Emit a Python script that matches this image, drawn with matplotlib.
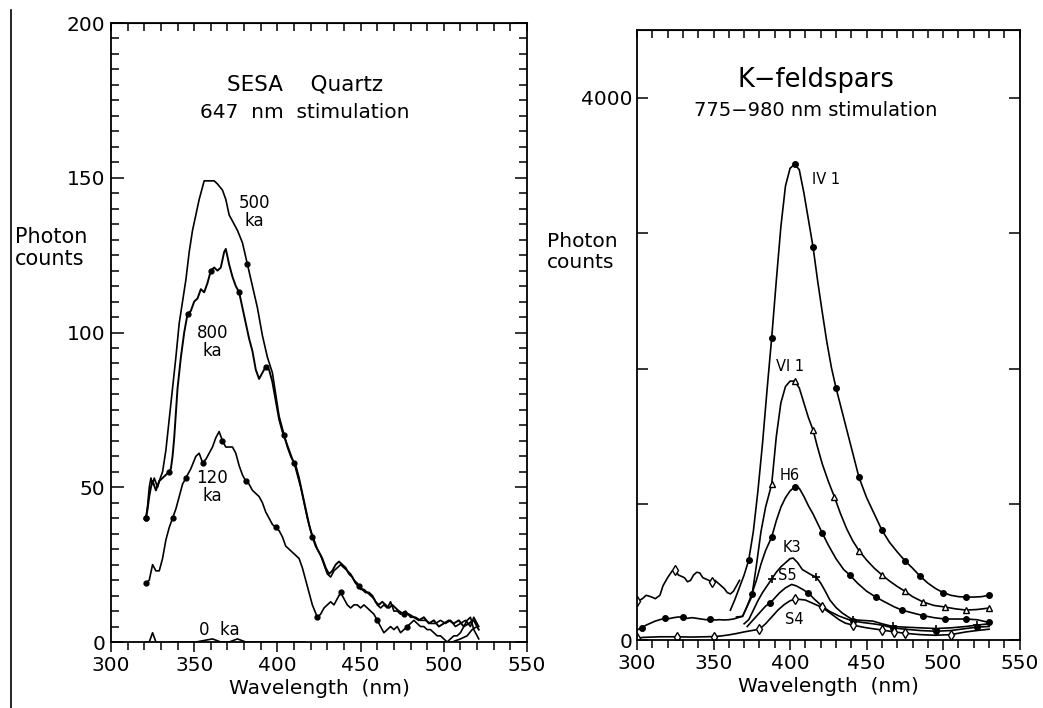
import numpy as np
import matplotlib
matplotlib.use("Agg")
import matplotlib.pyplot as plt
from matplotlib.lines import Line2D
from matplotlib.ticker import MultipleLocator

plt.rcParams['font.family'] = ['DejaVu Sans']

# ---------------- left panel: SESA quartz, 647 nm stimulation ----------------
q500_wl = [321, 322, 323, 324, 325, 326, 328, 329, 331, 333, 335, 337, 339, 341, 343, 345, 347,
           349, 351, 353, 356, 359, 362, 364, 367, 369, 371, 374, 376, 379, 382, 385, 388, 391,
           394, 397, 399, 401, 404, 406, 408, 410, 412, 414, 416, 418, 420, 422, 424, 426, 428,
           430, 432, 434, 436, 438, 440, 442, 444, 446, 448, 450, 452, 454, 456, 458, 460, 462,
           464, 466, 468, 470, 472, 474, 477, 480, 483, 486, 489, 492, 495, 498, 501, 504, 507,
           510, 513, 516, 518, 521]
q500_ct = [40, 44, 50, 53, 51, 53, 50, 52, 55, 62, 72, 82, 92, 103, 110, 117, 126,
           133, 138, 143, 149, 149, 149, 148, 146, 143, 138, 135, 133, 129, 122, 115, 108, 99,
           92, 87, 80, 73, 67, 63, 60, 58, 54, 50, 45, 40, 36, 33, 30, 28, 25,
           22, 21, 23, 24, 25, 24, 23, 22, 20, 19, 17, 17, 16, 15, 14, 12, 11,
           12, 11, 13, 10, 10, 9, 10, 8, 8, 7, 7, 6, 6, 7, 6, 7, 5,
           6, 7, 5, 8, 5]

q800_wl = [321, 322, 323, 324, 325, 327, 329, 331, 333, 335, 336, 337, 338, 339, 340, 342, 344,
           346, 348, 350, 352, 354, 356, 358, 360, 362, 364, 366, 368, 369, 371, 373, 375, 377,
           379, 381, 383, 385, 387, 389, 391, 393, 395, 397, 399, 401, 403, 405, 407, 409, 411,
           413, 415, 417, 419, 421, 423, 425, 427, 429, 431, 433, 435, 437, 439, 441, 443, 445,
           447, 449, 451, 453, 455, 457, 459, 461, 463, 465, 467, 469, 471, 473, 476, 479, 482,
           485, 488, 491, 494, 497, 500, 503, 506, 509, 512, 515, 518, 521]
q800_ct = [40, 43, 47, 50, 52, 49, 52, 53, 54, 55, 56, 60, 66, 74, 82, 92, 100,
           106, 107, 110, 111, 114, 113, 116, 120, 121, 120, 121, 126, 127, 122, 118, 115, 113,
           108, 103, 98, 94, 88, 85, 87, 89, 88, 84, 78, 72, 68, 65, 62, 59, 57,
           53, 48, 43, 38, 34, 31, 29, 27, 24, 22, 23, 25, 26, 25, 24, 22, 21,
           19, 18, 17, 16, 16, 15, 13, 12, 13, 12, 11, 12, 11, 10, 9, 9, 8,
           7, 8, 6, 7, 5, 6, 7, 6, 7, 5, 6, 7, 4]

q120_wl = [321, 323, 325, 327, 329, 331, 333, 335, 337, 339, 341, 343, 345, 348, 351, 353, 355,
           357, 359, 361, 363, 365, 367, 369, 371, 373, 375, 377, 379, 381, 383, 385, 387, 389,
           391, 393, 395, 397, 399, 401, 403, 405, 407, 409, 411, 413, 415, 417, 419, 421, 424,
           426, 428, 430, 432, 434, 436, 438, 440, 442, 444, 446, 448, 450, 452, 454, 456, 458,
           460, 462, 464, 466, 468, 470, 472, 474, 476, 478, 480, 482, 484, 486, 488, 490, 492,
           494, 496, 498, 500, 502, 504, 506, 508, 510, 512, 514, 516, 518, 520, 521]
q120_ct = [19, 20, 25, 23, 23, 27, 33, 37, 40, 43, 47, 51, 53, 56, 60, 61, 58,
           59, 61, 63, 66, 68, 65, 63, 63, 63, 61, 57, 54, 52, 51, 49, 48, 47,
           45, 42, 40, 38, 37, 36, 34, 31, 30, 29, 28, 27, 24, 20, 16, 12, 8,
           9, 11, 12, 13, 12, 14, 16, 14, 12, 11, 12, 12, 11, 12, 11, 10, 9,
           7, 5, 3, 4, 5, 4, 5, 3, 4, 5, 6, 7, 6, 5, 5, 4, 4,
           3, 2, 2, 1, 0, 1, 2, 2, 3, 5, 7, 8, 4, 2, 1]

q0_wl = [321, 323, 325, 327, 329, 331, 333, 336, 341, 351, 361, 366, 371, 376, 381, 391, 401,
         411, 416, 419, 422, 425, 428, 431, 436, 451, 471, 491, 500, 505, 510, 514, 517, 520]
q0_ct = [0, 0, 3, 0, -3, -1, -1, 0, 0, 0, 1, 0, 0, 1, 0, 0, 0,
         0, 0, -1, -2.5, -2, -1, -0.5, 0, 0, 0, 0, 0, 0, 1, 2, 4, 5]

q500_mk = [321, 382, 405, 410]
q800_mk = [321, 335, 346, 360, 377, 393, 421, 449, 476]
q120_mk = [321, 337, 345, 355, 367, 381, 399, 424, 438, 460, 478]

left_labels = ["500\nka", "800\nka", "120\nka", "0  ka"]
left_label_pos = [(386, 139), (361, 97), (361, 50), (365, 4)]

# ---------------- right panel: K-feldspars, 775-980 nm stimulation ----------------
iv1_wl = [361, 364, 367, 370, 373, 376, 379, 382, 385, 388, 391, 394, 397, 400, 403, 406, 409,
          412, 415, 418, 421, 424, 427, 430, 435, 440, 445, 450, 455, 460, 465, 470, 475, 480,
          485, 490, 495, 500, 505, 510, 515, 520, 525, 530]
iv1_ct = [220, 300, 390, 480, 590, 800, 1100, 1450, 1850, 2230, 2650, 3050, 3350, 3480, 3510,
          3470, 3300, 3100, 2900, 2650, 2420, 2200, 2010, 1860, 1640, 1420, 1200, 1050, 930,
          810, 720, 650, 585, 530, 470, 420, 380, 350, 330, 320, 317, 317, 320, 330]
iv1_mk = [373, 388, 403, 415, 430, 445, 460, 475, 485, 500, 515, 530]

# short-wavelength segment measured separately
pre_wl = [300, 303, 306, 309, 312, 315, 317, 320, 323, 325, 327, 329, 331, 333, 335, 337, 339,
          341, 343, 345, 347, 349, 351, 353, 355, 357, 359, 361, 363, 365, 367]
pre_ct = [290, 300, 330, 320, 305, 330, 400, 460, 510, 520, 480, 470, 460, 430, 440, 480, 500,
          495, 460, 450, 440, 430, 440, 420, 400, 380, 350, 340, 360, 400, 440]
pre_mk = [300, 325, 349]

vi1_wl = [365, 369, 372, 375, 378, 381, 384, 388, 391, 394, 397, 400, 403, 406, 409, 412, 415,
          418, 421, 425, 429, 433, 437, 441, 445, 450, 455, 460, 465, 470, 475, 480, 487, 494,
          501, 508, 515, 522, 530]
vi1_ct = [170, 175, 250, 320, 550, 800, 980, 1150, 1500, 1750, 1870, 1910, 1910, 1860, 1750,
          1640, 1550, 1420, 1300, 1170, 1055, 930, 820, 730, 660, 590, 530, 480, 435, 395, 360,
          320, 280, 255, 244, 230, 221, 225, 236]
vi1_mk = [388, 403, 415, 429, 445, 460, 475, 487, 501, 515, 530]

h6_wl = [300, 303, 306, 309, 312, 315, 318, 321, 324, 327, 330, 333, 336, 339, 342, 345, 348,
         351, 354, 357, 360, 363, 366, 369, 372, 375, 378, 381, 384, 388, 391, 394, 397, 400,
         403, 406, 409, 412, 415, 418, 421, 425, 430, 435, 439, 444, 450, 456, 462, 468, 473,
         480, 487, 494, 501, 508, 515, 522, 530]
h6_ct = [74, 90, 110, 125, 140, 150, 160, 158, 165, 170, 168, 160, 165, 160, 155, 150, 152,
         148, 150, 148, 150, 155, 165, 175, 250, 340, 440, 560, 660, 760, 880, 980, 1050, 1100,
         1130, 1120, 1060, 990, 930, 860, 790, 700, 600, 520, 480, 420, 360, 317, 280, 245, 221,
         200, 180, 165, 155, 155, 155, 150, 130]
h6_mk = [303, 318, 330, 348, 375, 388, 403, 421, 439, 456, 473, 487, 501, 515, 530]

k3_wl = [370, 373, 376, 379, 382, 385, 388, 391, 394, 397, 400, 402, 405, 408, 411, 414, 417,
         420, 423, 426, 430, 434, 438, 441, 447, 454, 460, 467, 475, 485, 495, 505, 515, 522, 530]
k3_ct = [120, 150, 220, 290, 350, 400, 450, 500, 540, 570, 600, 605, 570, 520, 500, 480, 465,
         420, 360, 295, 240, 200, 170, 150, 145, 140, 120, 100, 95, 90, 85, 90, 100, 110, 120]
k3_mk = [388, 417, 441, 467, 495, 522]

s5_wl = [372, 376, 380, 384, 387, 390, 393, 397, 401, 404, 408, 412, 416, 421, 426, 432, 436,
         441, 447, 454, 460, 467, 475, 485, 495, 505, 515, 522, 530]
s5_ct = [100, 150, 200, 250, 273, 310, 347, 385, 410, 400, 375, 347, 300, 250, 210, 177, 160,
         140, 130, 120, 110, 90, 80, 70, 65, 70, 85, 95, 100]
s5_mk = [387, 412, 441, 467, 495, 522]

s4_wl = [300, 305, 310, 315, 320, 326, 335, 345, 350, 355, 360, 365, 370, 375, 380, 384, 388,
         392, 396, 400, 403, 406, 410, 415, 421, 426, 432, 436, 441, 450, 460, 468, 475, 485,
         495, 505, 515, 522, 530]
s4_ct = [15, 20, 22, 24, 24, 24, 22, 24, 26, 30, 38, 48, 60, 70, 80, 120, 170,
         220, 260, 290, 300, 300, 295, 270, 240, 200, 150, 125, 110, 90, 74, 60, 50, 40,
         35, 40, 60, 70, 80]
s4_mk = [300, 326, 349, 380, 403, 421, 441, 460, 468, 475, 505]

right_labels = ["IV 1", "VI 1", "H6", "K3", "S5", "S4"]
right_label_pos = [(414, 3400), (400, 2015), (400, 1215), (401, 680), (398, 475), (403, 150)]


def marks(wl, mk):
    wl = np.asarray(wl)
    return [int(np.argmin(np.abs(wl - m))) for m in mk]


def frame(ax):
    for s in ax.spines.values():
        s.set_linewidth(1.3)
    ax.set_xlim(300, 550)
    ax.xaxis.set_major_locator(MultipleLocator(50))
    ax.xaxis.set_minor_locator(MultipleLocator(10))
    ax.tick_params(axis='x', which='both', direction='out', top=False, labelsize=14.5,
                   width=1.1, pad=3)
    ax.tick_params(axis='x', which='major', length=7)
    ax.tick_params(axis='x', which='minor', length=6)
    top = ax.secondary_xaxis('top')
    top.xaxis.set_major_locator(MultipleLocator(10))
    top.tick_params(direction='in', length=6, width=1.1, labeltop=False)
    ax.set_xlabel("Wavelength  (nm)", fontsize=14.5, labelpad=3)


fig = plt.figure(figsize=(10.43, 7.08), dpi=100)

# left panel
ax1 = fig.add_axes([0.1064, 0.0932, 0.3989, 0.8743])
frame(ax1)
ax1.set_ylim(0, 200)
ax1.yaxis.set_major_locator(MultipleLocator(50))
ax1.yaxis.set_minor_locator(MultipleLocator(5))
ax1.tick_params(axis='y', which='both', direction='in', left=True, right=True,
                labelsize=14.5, width=1.1, pad=4)
ax1.tick_params(axis='y', which='major', length=9)
ax1.tick_params(axis='y', which='minor', length=6)

ax1.plot(q500_wl, q500_ct, color='black', lw=1.2, marker='o', ms=3.5,
         markevery=marks(q500_wl, q500_mk))
ax1.plot(q800_wl, q800_ct, color='black', lw=1.4, marker='o', ms=3.5,
         markevery=marks(q800_wl, q800_mk))
ax1.plot(q120_wl, q120_ct, color='black', lw=1.2, marker='o', ms=3.5,
         markevery=marks(q120_wl, q120_mk))
ax1.plot(q0_wl, q0_ct, color='black', lw=1.2)

for txt, (x, y) in zip(left_labels, left_label_pos):
    ax1.text(x, y, txt, fontsize=12, ha='center', va='center', linespacing=1.0)

ax1.text(416.5, 180, "SESA    Quartz", fontsize=15.5, ha='center', va='center')
ax1.text(416.5, 171, "647  nm  stimulation", fontsize=14.5, ha='center', va='center')
fig.text(15 / 1043, 1 - 248 / 708, "Photon\ncounts", fontsize=15, ha='left', va='center',
         linespacing=1.1)

# right panel
ax2 = fig.add_axes([0.6107, 0.096, 0.367, 0.8616])
frame(ax2)
ax2.set_ylim(0, 4500)
ax2.set_yticks([0, 1000, 2000, 3000, 4000], labels=['0', '', '', '', '4000'])
ax2.tick_params(axis='y', which='major', direction='in', left=True, right=True,
                labelsize=14.5, length=8, width=1.1, pad=3)

ax2.plot(pre_wl, pre_ct, color='black', lw=1.2, marker='d', ms=5, mfc='white',
         markevery=marks(pre_wl, pre_mk))
ax2.plot(iv1_wl, iv1_ct, color='black', lw=1.2, marker='o', ms=4,
         markevery=marks(iv1_wl, iv1_mk))
ax2.plot(vi1_wl, vi1_ct, color='black', lw=1.2, marker='^', ms=5, mfc='white',
         markevery=marks(vi1_wl, vi1_mk))
ax2.plot(h6_wl, h6_ct, color='black', lw=1.2, marker='o', ms=4,
         markevery=marks(h6_wl, h6_mk))
ax2.plot(k3_wl, k3_ct, color='black', lw=1.2, marker='+', ms=6, mew=1.2,
         markevery=marks(k3_wl, k3_mk))
ax2.plot(s5_wl, s5_ct, color='black', lw=1.2, marker='o', ms=4,
         markevery=marks(s5_wl, s5_mk))
ax2.plot(s4_wl, s4_ct, color='black', lw=1.2, marker='d', ms=5, mfc='white',
         markevery=marks(s4_wl, s4_mk))

for txt, (x, y) in zip(right_labels, right_label_pos):
    ax2.text(x, y, txt, fontsize=10.5, ha='left' if txt == "IV 1" else 'center', va='center')

ax2.text(417, 4130, "K\u2212feldspars", fontsize=18.5, ha='center', va='center')
ax2.text(417, 3905, "775\u2212980 nm stimulation", fontsize=14, ha='center', va='center')
fig.text(547 / 1043, 1 - 252 / 708, "Photon\ncounts", fontsize=14.5, ha='left', va='center',
         linespacing=1.1)

# scan border on the left
fig.add_artist(Line2D([11 / 1043, 11 / 1043], [0, 1 - 10 / 708], transform=fig.transFigure,
                      color='black', lw=1.2))

fig.savefig("out.png", dpi=100)
